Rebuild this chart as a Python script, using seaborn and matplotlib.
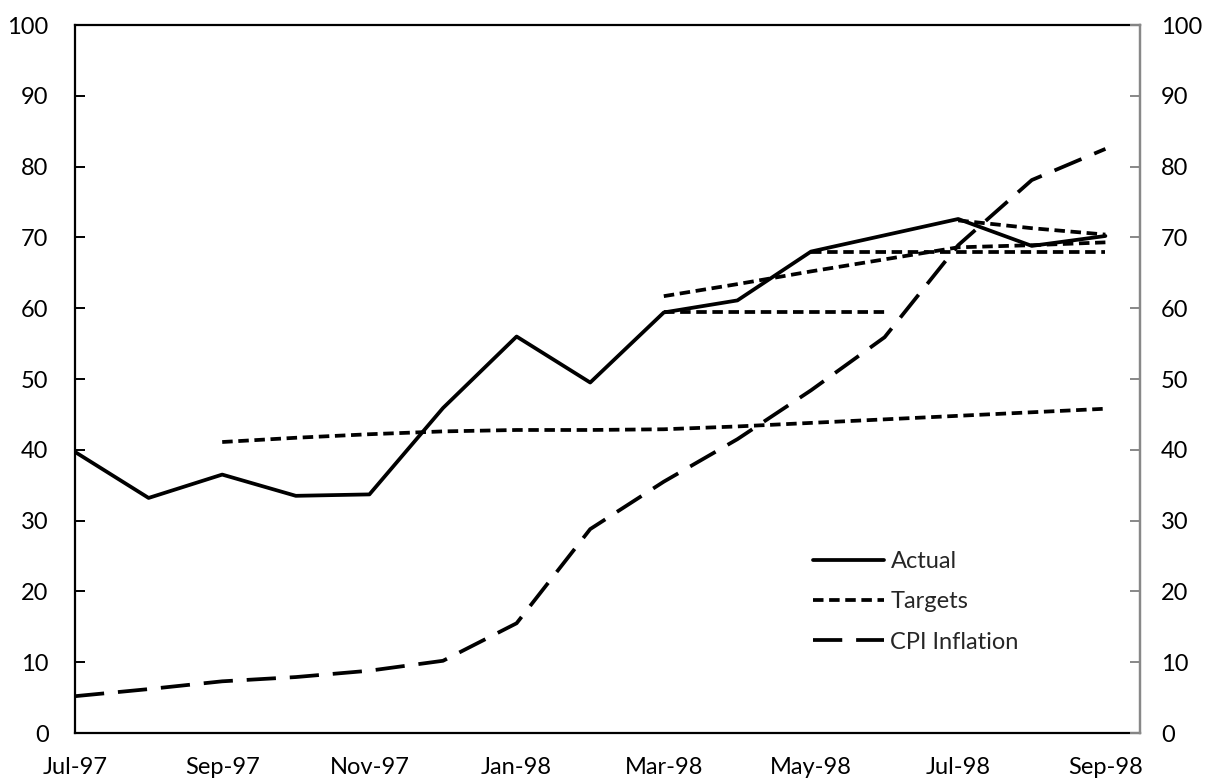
import numpy as np
import pandas as pd
import matplotlib
matplotlib.use("Agg")
import matplotlib.pyplot as plt
import seaborn as sns

# ------------------------------------------------------------
# Data
# ------------------------------------------------------------
months = ["Jul-97", "Aug-97", "Sep-97", "Oct-97", "Nov-97", "Dec-97", "Jan-98",
          "Feb-98", "Mar-98", "Apr-98", "May-98", "Jun-98", "Jul-98", "Aug-98", "Sep-98"]

actual = [39.7, 33.2, 36.5, 33.5, 33.7, 45.9, 56.0, 49.5, 59.4, 61.1, 68.0, 70.3, 72.6, 68.8, 70.2]
cpi = [5.2, 6.2, 7.3, 7.9, 8.8, 10.2, 15.5, 28.8, 35.5, 41.5, 48.4, 55.9, 68.9, 78.1, 82.5]

# target paths, each starting at a given month
target_sep97 = [41.1, 41.7, 42.2, 42.6, 42.8, 42.8, 42.9, 43.3, 43.8, 44.3, 44.8, 45.3, 45.8]
target_mar98_flat = [59.4, 59.4, 59.4, 59.4]
target_mar98 = [61.7, 63.4, 65.2, 66.9, 68.6, 68.9, 69.3]
target_may98 = [68.0, 68.0, 68.0, 68.0, 68.0]
target_jul98 = [72.4, 71.3, 70.4]

targets = [("Sep-97", target_sep97), ("Mar-98", target_mar98_flat),
           ("Mar-98", target_mar98), ("May-98", target_may98), ("Jul-98", target_jul98)]

tick_months = months[::2]
yticks = list(range(0, 101, 10))

# ------------------------------------------------------------
# Plot
# ------------------------------------------------------------
sns.set_style("white")
plt.rcParams["font.family"] = ["Lato", "DejaVu Sans"]

pos = {m: i for i, m in enumerate(months)}
x = np.array([pos[m] for m in months])

fig = plt.figure(figsize=(12.16, 7.84), dpi=100)
ax = fig.add_axes([75 / 1216, 51 / 784, 1065 / 1216, 708 / 784])

lw = 2.7
fs = 17
short_dash = (2.8, 1.5)
long_dash = (7.8, 3.7)

sns.lineplot(x=x, y=actual, ax=ax, color="black", linewidth=lw, label="Actual", zorder=4)
for i, (start, vals) in enumerate(targets):
    xs = np.arange(pos[start], pos[start] + len(vals))
    line = ax.plot(xs, vals, color="black", linewidth=lw, zorder=3,
                   label="Targets" if i == 0 else "_nolegend_")[0]
    line.set_dashes(short_dash)
cpi_line = sns.lineplot(x=x, y=cpi, ax=ax, color="black", linewidth=lw,
                        label="CPI Inflation", zorder=3).lines[-1]
cpi_line.set_dashes(long_dash)

ax.set_xlim(0, 14.47)
ax.set_ylim(0, 100)
ax.set_xticks([pos[m] for m in tick_months])
ax.set_xticklabels(tick_months)
ax.set_yticks(yticks)
ax.set_xlabel("")
ax.set_ylabel("")

for s in ["left", "bottom", "top"]:
    ax.spines[s].set_color("black")
    ax.spines[s].set_linewidth(1.6)
ax.spines["right"].set_color("#888888")
ax.spines["right"].set_linewidth(1.6)

ax.tick_params(axis="both", direction="in", length=7, width=1.4, color="black",
               labelsize=fs, labelcolor="black")
ax.tick_params(axis="y", pad=19)
ax.tick_params(axis="x", pad=17)

ax2 = ax.twinx()
ax2.set_ylim(0, 100)
ax2.set_yticks(yticks)
ax2.spines["right"].set_color("#888888")
ax2.spines["right"].set_linewidth(1.6)
for s in ["left", "bottom", "top"]:
    ax2.spines[s].set_visible(False)
ax2.tick_params(axis="y", direction="in", length=7, width=1.4, color="#888888",
                labelsize=fs, labelcolor="black", pad=15)

# legend
handles, labels = ax.get_legend_handles_labels()
leg = ax.legend(handles, labels, loc="upper left",
                bbox_to_anchor=(813 / 1216, (784 - 551) / 784),
                bbox_transform=fig.transFigure, frameon=False, fontsize=fs,
                handlelength=3.0, handletextpad=0.28, labelspacing=0.82,
                borderpad=0, borderaxespad=0)

plt.savefig("out.png", dpi=100)
